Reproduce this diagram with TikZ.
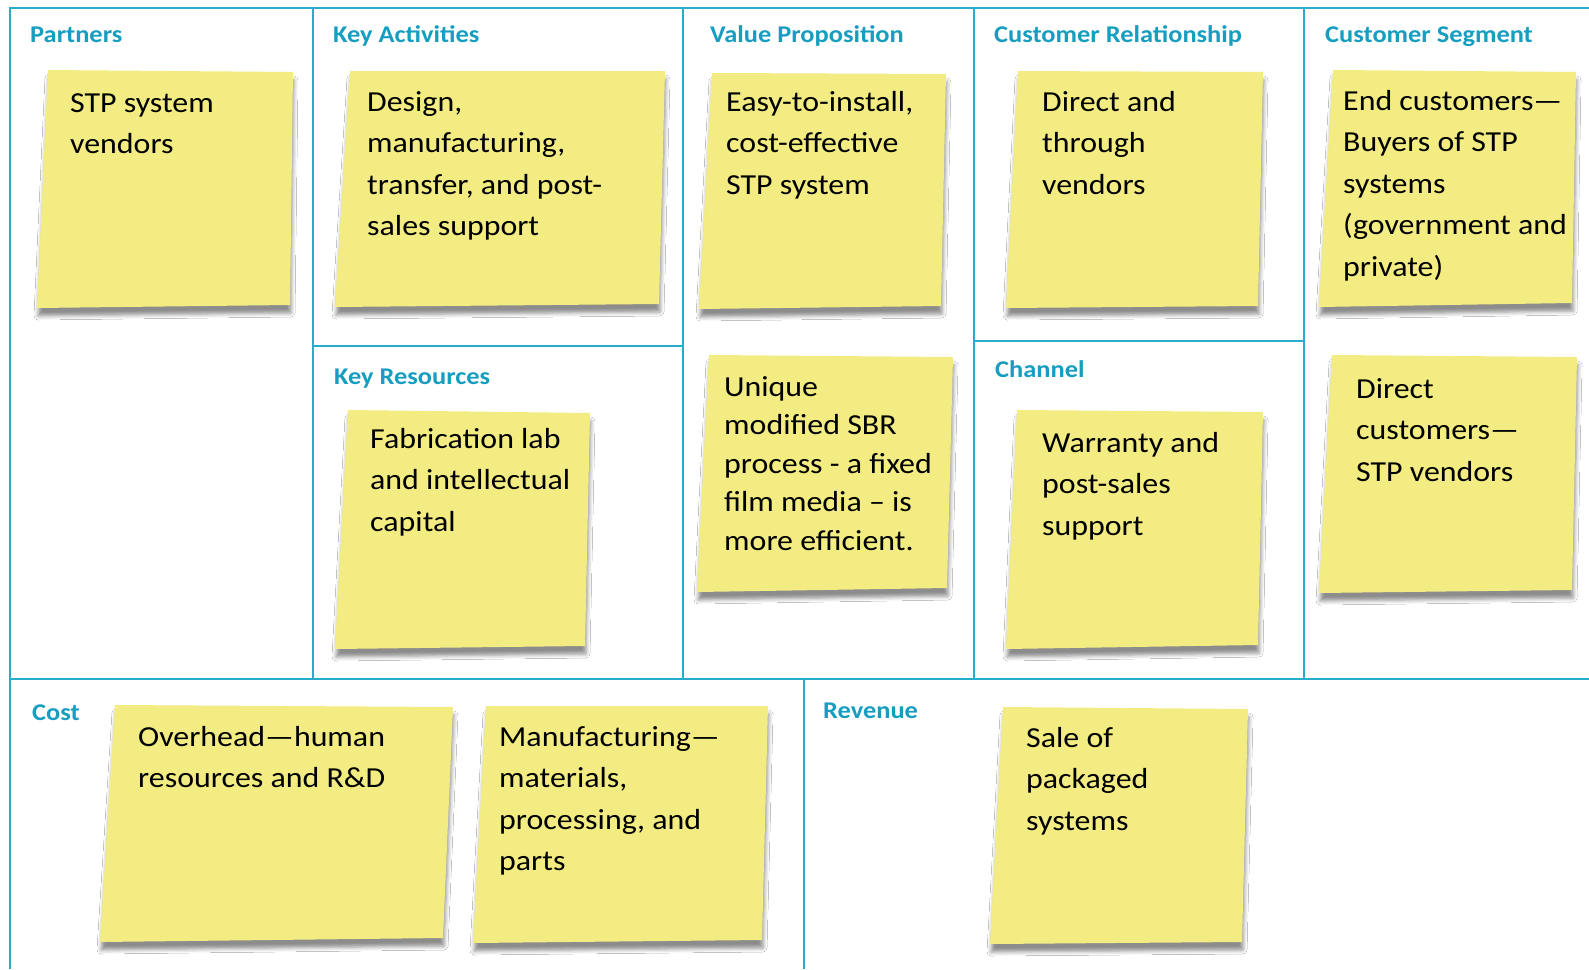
\documentclass[tikz,border=0pt]{standalone}
\usepackage{fontspec}
\setmainfont{Carlito}[FakeStretch=1.10]
\usetikzlibrary{shadows.blur}
\definecolor{hdcol}{RGB}{22,158,192}
\definecolor{gridcol}{RGB}{40,172,204}
\definecolor{notecol}{RGB}{243,236,130}
\tikzset{
  outerline/.style={draw=gridcol, line width=2pt},
  gridline/.style={draw=gridcol, line width=1.5pt},
  hd/.style={anchor=base west, inner sep=0pt, text=hdcol, font=\bfseries\fontsize{24}{28}\selectfont},
  notetext/.style={anchor=north west, inner sep=0pt, align=left, font=\fontsize{29}{41.5}\selectfont},
  notetight/.style={notetext, font=\fontsize{29}{38.5}\selectfont},
  note/.style={fill=notecol, blur shadow={shadow xshift=1pt, shadow yshift=-8pt, shadow blur radius=4pt, shadow opacity=45}}
}
\newcommand{\fl}{\rule{0pt}{23pt}}
\begin{document}
\begin{tikzpicture}[x=1pt,y=-1pt]
\useasboundingbox (0,0) rectangle (1589,969);
\fill[white] (0,0) rectangle (1589,969);
% grid
\draw[outerline] (10,969) -- (10,8) -- (1589,8);
\draw[gridline] (10,679) -- (1589,679);
\draw[gridline] (313,8) -- (313,679);
\draw[gridline] (683,8) -- (683,679);
\draw[gridline] (974,8) -- (974,679);
\draw[gridline] (1304,8) -- (1304,679);
\draw[gridline] (313,346) -- (683,346);
\draw[gridline] (974,341) -- (1304,341);
\draw[gridline] (804,679) -- (804,969);
% headings
\node[hd] (hP) at (30,42) {Partners};
\node[hd] (hKA) at (333,42) {Key Activities};
\node[hd] (hVP) at (710,42) {Value Proposition};
\node[hd] (hCR) at (994,42) {Customer Relationship};
\node[hd] (hCS) at (1325,42) {Customer Segment};
\node[hd] (hKR) at (334,384) {Key Resources};
\node[hd] (hCH) at (995,377) {Channel};
\node[hd] (hC) at (32,720) {Cost};
\node[hd] (hR) at (823,718) {Revenue};
% notes
\path[note] (48,70) -- (293,72) -- (290,305) -- (37,308) -- cycle;
\path[note] (350,71) -- (665,71) -- (659,304) -- (335,307) -- cycle;
\path[note] (712,73) -- (946,74) -- (941,306) -- (699,309) -- cycle;
\path[note] (1018,71) -- (1263,72) -- (1258,306) -- (1006,308) -- cycle;
\path[note] (1333,70) -- (1576,72) -- (1572,303) -- (1319,307) -- cycle;
\path[note] (348,410) -- (590,413) -- (585,646) -- (335,649) -- cycle;
\path[note] (709,355) -- (953,357) -- (947,588) -- (697,592) -- cycle;
\path[note] (1017,410) -- (1263,412) -- (1258,645) -- (1006,649) -- cycle;
\path[note] (1332,355) -- (1577,357) -- (1572,590) -- (1319,593) -- cycle;
\path[note] (115,705) -- (453,707) -- (443,938) -- (100,942) -- cycle;
\path[note] (486,706) -- (768,706) -- (762,940) -- (473,943) -- cycle;
\path[note] (1003,707) -- (1248,709) -- (1242,942) -- (990,944) -- cycle;
% note texts
\node[notetext] (tP) at (70,89) {\fl STP system\\vendors};
\node[notetext] (tKA) at (367,88) {\fl Design,\\manufacturing,\\transfer, and post-\\sales support};
\node[notetext] (tVP1) at (726,88) {\fl Easy-to-install,\\cost-effective\\STP system};
\node[notetext] (tCR) at (1042,88) {\fl Direct and\\through\\vendors};
\node[notetext] (tCS1) at (1343,87) {\fl End customers—\\Buyers of STP\\systems\\(government and\\private)};
\node[notetext] (tKR) at (370,425) {\fl Fabrication lab\\and intellectual\\capital};
\node[notetight] (tVP2) at (724,373) {\fl Unique\\modified SBR\\process - a fixed\\film media – is\\more efficient.};
\node[notetext] (tCH) at (1042,429) {\fl Warranty and\\post-sales\\support};
\node[notetext] (tCS2) at (1356,375) {\fl Direct\\customers—\\STP vendors};
\node[notetext] (tC1) at (138,723) {\fl Overhead—human\\resources and R\&D};
\node[notetext] (tC2) at (499,723) {\fl Manufacturing—\\materials,\\processing, and\\parts};
\node[notetext] (tR) at (1026,724) {\fl Sale of\\packaged\\systems};
\end{tikzpicture}
\end{document}
